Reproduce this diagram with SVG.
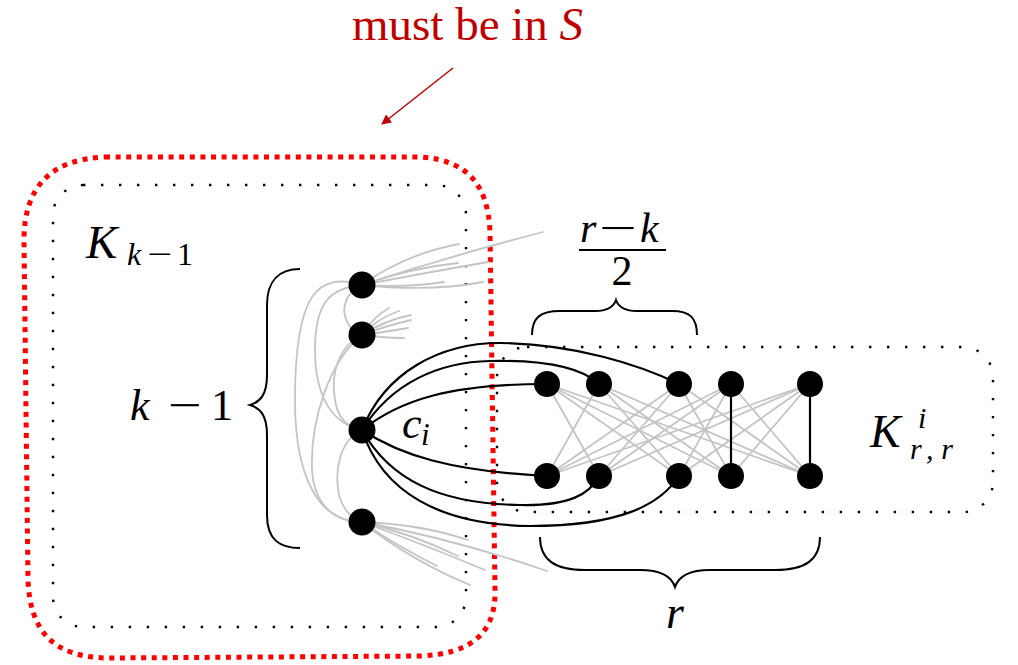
<svg xmlns="http://www.w3.org/2000/svg" width="1018" height="665" viewBox="0 0 1018 665">
<defs>
<style>
.gray{fill:none;stroke:#c4c4c4;stroke-width:1.8;stroke-linecap:round}
.edge{fill:none;stroke:#000;stroke-width:2.2}
.brace{fill:none;stroke:#000;stroke-width:2}
.dot{fill:none;stroke:#000;stroke-width:2.4;stroke-dasharray:2.4 15.6}
.red{fill:none;stroke:#ff0000;stroke-width:5;stroke-dasharray:5 5.6}
.node{fill:#000}
</style>
<marker id="ah" markerWidth="10" markerHeight="10" refX="9" refY="5" orient="auto" markerUnits="userSpaceOnUse" viewBox="0 0 10 10">
<path d="M0,0 L10,5 L0,10 Z" fill="#c00000"/>
</marker>
</defs>
<rect width="1018" height="665" fill="#fff"/>

<g id="annotation">
<text x="352" y="40" font-family="Liberation Serif, serif" font-size="47" fill="#c00000">must be in <tspan font-style="italic">S</tspan></text>
<line x1="453" y1="68" x2="382" y2="124" stroke="#c00000" stroke-width="1.5" marker-end="url(#ah)"/>
</g>

<g id="region-S">
<path class="red" d="M105,157 L420,157 C468,160 488,185 490,232 L495,590 C496,634 470,654 420,656 L110,658 C52,658 30,630 28,580 L24,240 C24,188 50,159 105,157 Z"/>
</g>
<g id="region-Kk1">
<rect class="dot" x="53" y="185" width="413" height="442" rx="30"/>
</g>
<g id="region-Krr">
<rect class="dot" x="497" y="347" width="496" height="165" rx="30"/>
</g>

<g id="connectors">
<path class="gray" d="M362,285 C345,292 336,314 355,332"/>
<path class="gray" d="M362,285 C330,288 315,302 315,350 C315,400 335,425 362,430"/>
<path class="gray" d="M362,285 C318,272 295,292 295,400 C295,480 320,522 362,522"/>
<path class="gray" d="M362,335 C340,345 330,372 335,400 C338,420 350,428 362,430"/>
<path class="gray" d="M362,335 C330,360 310,420 312,470 C314,505 335,522 362,522"/>
<path class="gray" d="M362,430 C340,440 334,470 339,495 C344,513 355,520 362,522"/>
<path class="gray" d="M362,285 Q405,254 459,244"/>
<path class="gray" d="M362,285 Q450,256 543,232"/>
<path class="gray" d="M362,285 Q410,268 458,263"/>
<path class="gray" d="M362,285 Q430,272 488,262"/>
<path class="gray" d="M362,285 Q405,288 444,282"/>
<path class="gray" d="M362,285 Q430,292 483,282"/>
<path class="gray" d="M362,335 Q374,316 389,308"/>
<path class="gray" d="M362,335 Q378,318 399,311"/>
<path class="gray" d="M362,335 Q385,320 411,315"/>
<path class="gray" d="M362,335 Q385,326 411,320"/>
<path class="gray" d="M362,335 Q385,332 408,328"/>
<path class="gray" d="M362,335 Q385,338 404,338"/>
<path class="gray" d="M362,522 Q420,524 468,540"/>
<path class="gray" d="M362,522 Q410,533 458,556"/>
<path class="gray" d="M362,522 Q450,538 547,571"/>
<path class="gray" d="M362,522 Q420,543 485,570"/>
<path class="gray" d="M362,522 Q395,545 437,566"/>
<path class="gray" d="M362,522 Q410,560 470,585"/>
<g class="gray">
<line x1="547" y1="384" x2="599" y2="476"/><line x1="547" y1="384" x2="679" y2="476"/><line x1="547" y1="384" x2="731" y2="476"/><line x1="547" y1="384" x2="810" y2="476"/>
<line x1="599" y1="384" x2="547" y2="476"/><line x1="599" y1="384" x2="679" y2="476"/><line x1="599" y1="384" x2="731" y2="476"/><line x1="599" y1="384" x2="810" y2="476"/>
<line x1="679" y1="384" x2="547" y2="476"/><line x1="679" y1="384" x2="599" y2="476"/><line x1="679" y1="384" x2="731" y2="476"/><line x1="679" y1="384" x2="810" y2="476"/>
<line x1="731" y1="384" x2="547" y2="476"/><line x1="731" y1="384" x2="599" y2="476"/><line x1="731" y1="384" x2="679" y2="476"/><line x1="731" y1="384" x2="810" y2="476"/>
<line x1="810" y1="384" x2="547" y2="476"/><line x1="810" y1="384" x2="599" y2="476"/><line x1="810" y1="384" x2="679" y2="476"/><line x1="810" y1="384" x2="731" y2="476"/>
</g>
<line class="edge" x1="731" y1="384" x2="731" y2="476"/>
<line class="edge" x1="810" y1="384" x2="810" y2="476"/>
<path class="edge" d="M362,430 C385,372 440,343 500,343 C575,344 640,365 679,384"/>
<path class="edge" d="M362,430 C392,382 440,362 490,361 C540,360 580,366 599,384"/>
<path class="edge" d="M362,430 C400,400 450,384 547,384"/>
<path class="edge" d="M362,430 C400,455 450,471 547,476"/>
<path class="edge" d="M362,430 C390,480 440,504 520,505 C570,506 590,494 599,476"/>
<path class="edge" d="M362,430 C382,492 440,525 530,526 C620,526 660,505 679,476"/>
</g>

<g id="node-a"><circle class="node" cx="362" cy="285" r="13.5"/></g>
<g id="node-b"><circle class="node" cx="362" cy="335" r="13.5"/></g>
<g id="node-ci"><circle class="node" cx="362" cy="430" r="13.5"/></g>
<g id="node-d"><circle class="node" cx="362" cy="522" r="13.5"/></g>
<g id="node-t1"><circle class="node" cx="547" cy="384" r="13"/></g>
<g id="node-t2"><circle class="node" cx="599" cy="384" r="13"/></g>
<g id="node-t3"><circle class="node" cx="679" cy="384" r="13"/></g>
<g id="node-t4"><circle class="node" cx="731" cy="384" r="13"/></g>
<g id="node-t5"><circle class="node" cx="810" cy="384" r="13"/></g>
<g id="node-b1"><circle class="node" cx="547" cy="476" r="13"/></g>
<g id="node-b2"><circle class="node" cx="599" cy="476" r="13"/></g>
<g id="node-b3"><circle class="node" cx="679" cy="476" r="13"/></g>
<g id="node-b4"><circle class="node" cx="731" cy="476" r="13"/></g>
<g id="node-b5"><circle class="node" cx="810" cy="476" r="13"/></g>

<g id="braces">
<path class="brace" d="M532,335 C532,318 540,311 560,311 L595,311 C608,311 614,306 616,300 C618,306 624,311 637,311 L672,311 C690,311 697,318 697,335"/>
<path class="brace" d="M540,537 C540,560 555,570 585,570 L640,570 C662,570 672,578 675,587 C678,578 688,570 710,570 L775,570 C805,570 820,560 820,537"/>
<path class="brace" d="M300,269 C280,269 267,280 267,305 L267,375 C267,395 260,402 250,405 C260,408 267,415 267,435 L267,515 C267,540 280,548 300,548"/>
</g>

<g id="labels">
<text font-family="Liberation Serif, serif" font-style="italic" x="86" y="258" font-size="47">K</text>
<text font-family="Liberation Serif, serif" font-style="italic" x="127" y="265" font-size="32">k</text>
<text font-family="Liberation Serif, serif" x="147" y="265" font-size="32" textLength="25" lengthAdjust="spacingAndGlyphs">−</text>
<text font-family="Liberation Serif, serif" x="177" y="265" font-size="32">1</text>

<text font-family="Liberation Serif, serif" font-style="italic" x="130" y="420" font-size="44">k</text>
<text font-family="Liberation Serif, serif" x="168" y="420" font-size="44" textLength="34" lengthAdjust="spacingAndGlyphs">−</text>
<text font-family="Liberation Serif, serif" x="211" y="420" font-size="44">1</text>

<text font-family="Liberation Serif, serif" font-style="italic" x="402" y="438" font-size="44">c</text>
<text font-family="Liberation Serif, serif" font-style="italic" x="421" y="445" font-size="31">i</text>

<text font-family="Liberation Serif, serif" font-style="italic" x="580" y="242" font-size="42">r</text>
<text font-family="Liberation Serif, serif" x="599" y="242" font-size="42" textLength="38" lengthAdjust="spacingAndGlyphs">−</text>
<text font-family="Liberation Serif, serif" font-style="italic" x="640" y="242" font-size="42">k</text>
<line x1="579" y1="250" x2="666" y2="250" stroke="#000" stroke-width="2"/>
<text font-family="Liberation Serif, serif" x="622" y="285" font-size="42" text-anchor="middle">2</text>

<text font-family="Liberation Serif, serif" font-style="italic" x="870" y="447" font-size="46">K</text>
<text font-family="Liberation Serif, serif" font-style="italic" x="918" y="428" font-size="30">i</text>
<text font-family="Liberation Serif, serif" font-style="italic" x="910" y="459" font-size="30" textLength="43" lengthAdjust="spacing">r,r</text>

<text font-family="Liberation Serif, serif" font-style="italic" x="675" y="628" font-size="46" text-anchor="middle">r</text>
</g>
</svg>
